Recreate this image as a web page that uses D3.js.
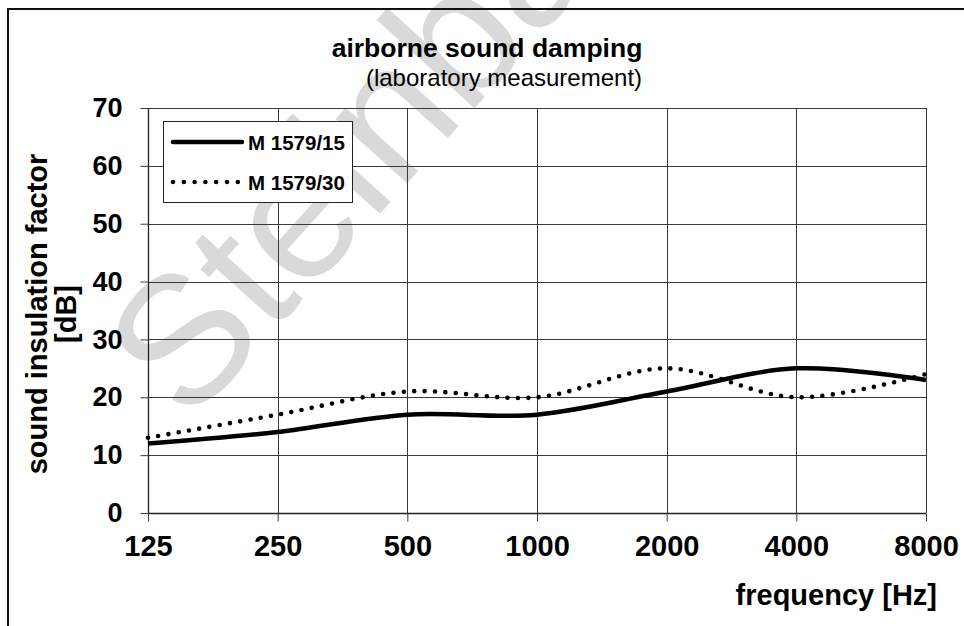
<!DOCTYPE html>
<html>
<head>
<meta charset="utf-8">
<script src="https://cdn.jsdelivr.net/npm/d3@7"></script>
<style>
  html, body { margin: 0; padding: 0; background: #fff; }
  svg { display: block; }
  text { font-family: "Liberation Sans", Arial, sans-serif; }
</style>
</head>
<body>
<svg id="chart" width="964" height="626"></svg>
<script>
// ---- data ----
const frequencies = ["125", "250", "500", "1000", "2000", "4000", "8000"];
const seriesNames = ["M 1579/15", "M 1579/30"];
const valuesM15 = [12, 14, 17, 17, 21, 25, 23];
const valuesM30 = [13, 17, 21, 20, 25, 20, 24];
const yTicks = [0, 10, 20, 30, 40, 50, 60, 70];

const svg = d3.select("#chart");
const plot = { left: 148, right: 926, top: 108, bottom: 513 };

// watermark
const wmAngle = -48, wmSize = 182;
{
  const a = wmAngle * Math.PI / 180;
  const lx = 0.333 * wmSize, ly = -0.358 * wmSize;
  const ox = lx * Math.cos(a) - ly * Math.sin(a);
  const oy = lx * Math.sin(a) + ly * Math.cos(a);
  svg.append("text")
    .attr("transform", `translate(${181 - ox},${337 - oy}) rotate(${wmAngle})`)
    .attr("font-size", wmSize)
    .attr("fill", "#d9d9d9")
    .text("Steinbach");
}

// outer frame
svg.append("rect")
  .attr("x", 8).attr("y", 9).attr("width", 1000).attr("height", 700)
  .attr("fill", "none").attr("stroke", "#111").attr("stroke-width", 2);

const x = d3.scalePoint().domain(frequencies).range([plot.left, plot.right]);
const y = d3.scaleLinear().domain([0, 70]).range([plot.bottom, plot.top]);

// grid
const g = svg.append("g");
g.selectAll("line.h").data(yTicks.filter(d => d > 0)).join("line")
  .attr("x1", plot.left).attr("x2", plot.right)
  .attr("y1", d => Math.round(y(d)) + 0.5).attr("y2", d => Math.round(y(d)) + 0.5)
  .attr("stroke", "#3a3a3a").attr("stroke-width", 1);
g.selectAll("line.v").data(frequencies.slice(1)).join("line")
  .attr("x1", d => Math.round(x(d)) + 0.5).attr("x2", d => Math.round(x(d)) + 0.5)
  .attr("y1", plot.top).attr("y2", plot.bottom)
  .attr("stroke", "#3a3a3a").attr("stroke-width", 1);

// axes
const yAxis = d3.axisLeft(y).tickValues(yTicks).tickSize(8).tickPadding(18);
const yg = svg.append("g").attr("transform", `translate(${plot.left + 0.5},0)`).call(yAxis);
const xAxis = d3.axisBottom(x).tickSize(8).tickPadding(14);
const xg = svg.append("g").attr("transform", `translate(0,${plot.bottom + 0.5})`).call(xAxis);
[yg, xg].forEach(a => {
  a.select(".domain").attr("stroke", "#222").attr("stroke-width", 1.3);
  a.selectAll(".tick line").attr("stroke", "#3a3a3a");
  a.selectAll(".tick text").attr("fill", "#000").attr("font-weight", "bold")
    .attr("font-family", "'Liberation Sans', Arial, sans-serif");
});
yg.selectAll(".tick text").attr("font-size", 27);
xg.selectAll(".tick text").attr("font-size", 29);
xg.select(".domain").attr("d", `M${plot.left},0H${plot.right}`);
yg.select(".domain").attr("d", `M0,${plot.bottom}V${plot.top}`);

// lines
const line = d3.line().x((d, i) => x(frequencies[i])).y(d => y(d)).curve(d3.curveCardinal.tension(0));
svg.append("path").datum(valuesM30).attr("d", line)
  .attr("fill", "none").attr("stroke", "#000").attr("stroke-width", 4.6)
  .attr("stroke-linecap", "round").attr("stroke-dasharray", "0,10.4");
svg.append("path").datum(valuesM15).attr("d", line)
  .attr("fill", "none").attr("stroke", "#000").attr("stroke-width", 4.5);

// titles
svg.append("text").attr("x", 487).attr("y", 57).attr("text-anchor", "middle")
  .attr("font-size", 26.5).attr("font-weight", "bold").text("airborne sound damping");
svg.append("text").attr("x", 504).attr("y", 86).attr("text-anchor", "middle")
  .attr("font-size", 24).text("(laboratory measurement)");

svg.append("text").attr("x", 937).attr("y", 605).attr("text-anchor", "end")
  .attr("font-size", 29).attr("font-weight", "bold").text("frequency [Hz]");

const yt = svg.append("text").attr("transform", "translate(47,314) rotate(-90)")
  .attr("text-anchor", "middle").attr("font-size", 29).attr("font-weight", "bold");
yt.append("tspan").attr("x", 0).attr("dy", 0).text("sound insulation factor");
yt.append("tspan").attr("x", 0).attr("dy", 29).text("[dB]");

// legend
const lg = svg.append("g");
lg.append("rect").attr("x", 163.5).attr("y", 121.5).attr("width", 189).attr("height", 81)
  .attr("fill", "#fff").attr("stroke", "#222").attr("stroke-width", 1);
const legendRows = [
  { name: seriesNames[0], dash: null, y: 142 },
  { name: seriesNames[1], dash: "0,10.8", y: 182 }
];
legendRows.forEach(r => {
  lg.append("line").attr("x1", 173).attr("x2", 242).attr("y1", r.y).attr("y2", r.y)
    .attr("stroke", "#000").attr("stroke-width", 4.5).attr("stroke-linecap", "round")
    .attr("stroke-dasharray", r.dash);
  lg.append("text").attr("x", 248).attr("y", r.y + 7.5).attr("font-size", 20.5)
    .attr("font-weight", "bold").text(r.name);
});
</script>
</body>
</html>
